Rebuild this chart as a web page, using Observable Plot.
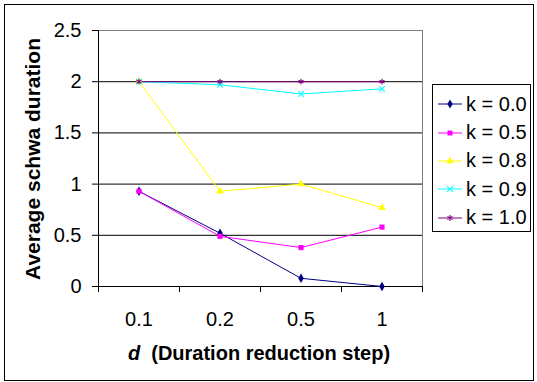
<!DOCTYPE html>
<html>
<head>
<meta charset="utf-8">
<script src="https://cdn.jsdelivr.net/npm/d3@7"></script>
<script src="https://cdn.jsdelivr.net/npm/@observablehq/plot@0.6"></script>
<style>
  body { margin: 0; background: #fff; }
  #wrap { position: relative; width: 537px; height: 382px; font-family: "Liberation Sans", Arial, sans-serif; }
  #frame { position: absolute; left: 4px; top: 4px; width: 530px; height: 377px; border: 1px solid #000; box-sizing: border-box; }
  #chart { position: absolute; left: 0; top: 0; }
  #legend { position: absolute; left: 432px; top: 84px; width: 99px; height: 148px; border: 1px solid #000; box-sizing: border-box; background: #fff; padding-top: 5px; }
  .entry { display: flex; align-items: center; height: 28.4px; font-size: 20px; color: #000; white-space: nowrap; }
  .entry svg { margin-left: 5px; margin-right: 4px; flex: none; }
</style>
</head>
<body>
<div id="wrap">
  <div id="frame"></div>
  <div id="chart"></div>
  <div id="legend"></div>
</div>
<script>
// ---- data ----
const dLabels = ["0.1", "0.2", "0.5", "1"];
const kLabels = ["k = 0.0", "k = 0.5", "k = 0.8", "k = 0.9", "k = 1.0"];
const k00 = [0.93, 0.52, 0.08, 0.0];
const k05 = [0.93, 0.49, 0.38, 0.58];
const k08 = [2.0, 0.93, 1.0, 0.77];
const k09 = [2.0, 1.97, 1.88, 1.93];
const k10 = [2.0, 2.0, 2.0, 2.0];
const yTicks = [0, 0.5, 1, 1.5, 2, 2.5];

// ---- styles ----
const seriesValues = [k00, k05, k08, k09, k10];
const colors = ["#000080", "#FF00FF", "#FFFF00", "#00FFFF", "#800080"];
const symbols = ["diamond", "square", "triangle", "times", "asterisk"];
const filled = [true, true, true, false, false];

const rows = [];
seriesValues.forEach((vals, s) => {
  vals.forEach((v, i) => rows.push({series: kLabels[s], idx: i, xi: i + 0.5, v}));
});

const marks = [
  Plot.ruleY(yTicks.filter(t => t > 0 && t < 2.5), {stroke: "#000", strokeWidth: 1}),
  Plot.ruleY([2.5], {stroke: "#808080"}),
  Plot.ruleX([dLabels.length], {stroke: "#808080"}),
  Plot.axisY({ticks: yTicks, tickFormat: d => String(d), tickSize: 6, tickPadding: 11, label: null, fontSize: 20}),
  Plot.axisX({ticks: d3.range(dLabels.length + 1), tickSize: 6, tickFormat: () => "", label: null}),
  Plot.axisX({ticks: dLabels.map((_, i) => i + 0.5), tickSize: 0, tickPadding: 25, tickFormat: t => dLabels[Math.floor(t)], label: null, fontSize: 20}),
  Plot.ruleX([0], {stroke: "#000"}),
  Plot.ruleY([0], {stroke: "#000"})
];
kLabels.forEach((name, s) => {
  const data = rows.filter(r => r.series === name);
  marks.push(Plot.line(data, {x: "xi", y: "v", stroke: colors[s], strokeWidth: 1}));
});
kLabels.forEach((name, s) => {
  const data = rows.filter(r => r.series === name);
  marks.push(Plot.dot(data, filled[s]
    ? {x: "xi", y: "v", symbol: () => symbols[s], fill: colors[s], stroke: "none", r: 2.9}
    : {x: "xi", y: "v", symbol: () => symbols[s], stroke: colors[s], strokeWidth: 1.1, r: 2.7}));
});

const chart = Plot.plot({
  width: 537,
  height: 382,
  marginLeft: 98,
  marginRight: 115,
  marginTop: 30,
  marginBottom: 96,
  style: {fontFamily: "'Liberation Sans', Arial, sans-serif", fontSize: "20px", background: "transparent", color: "#000"},
  x: {type: "linear", domain: [0, dLabels.length]},
  y: {domain: [0, 2.5]},
  symbol: {type: "identity"},
  marks
});
document.getElementById("chart").appendChild(chart);

// axis titles
const svg = d3.select(chart);
const xt = svg.append("text")
  .attr("x", 259).attr("y", 360)
  .attr("text-anchor", "middle")
  .style("font-weight", "bold").style("font-size", "20px").attr("fill", "#000");
xt.append("tspan").style("font-style", "italic").text("d");
xt.append("tspan").text("\u00a0\u00a0(Duration reduction step)");
svg.append("text")
  .attr("transform", "translate(40,159) rotate(-90)")
  .attr("text-anchor", "middle")
  .style("font-weight", "bold").style("font-size", "21px").attr("fill", "#000")
  .text("Average schwa duration");

// legend
const legend = d3.select("#legend");
const symMap = {diamond: d3.symbolDiamond, square: d3.symbolSquare, triangle: d3.symbolTriangle, times: d3.symbolTimes, asterisk: d3.symbolAsterisk};
kLabels.forEach((name, s) => {
  const e = legend.append("div").attr("class", "entry");
  const sv = e.append("svg").attr("width", 24).attr("height", 14);
  sv.append("line").attr("x1", 0).attr("x2", 24).attr("y1", 7).attr("y2", 7).attr("stroke", colors[s]);
  const p = sv.append("path").attr("transform", "translate(12,7)")
    .attr("d", d3.symbol(symMap[symbols[s]], Math.PI * 2.8 * 2.8)());
  if (filled[s]) p.attr("fill", colors[s]); else p.attr("fill", "none").attr("stroke", colors[s]).attr("stroke-width", 1.1);
  e.append("span").text(name);
});
</script>
</body>
</html>
